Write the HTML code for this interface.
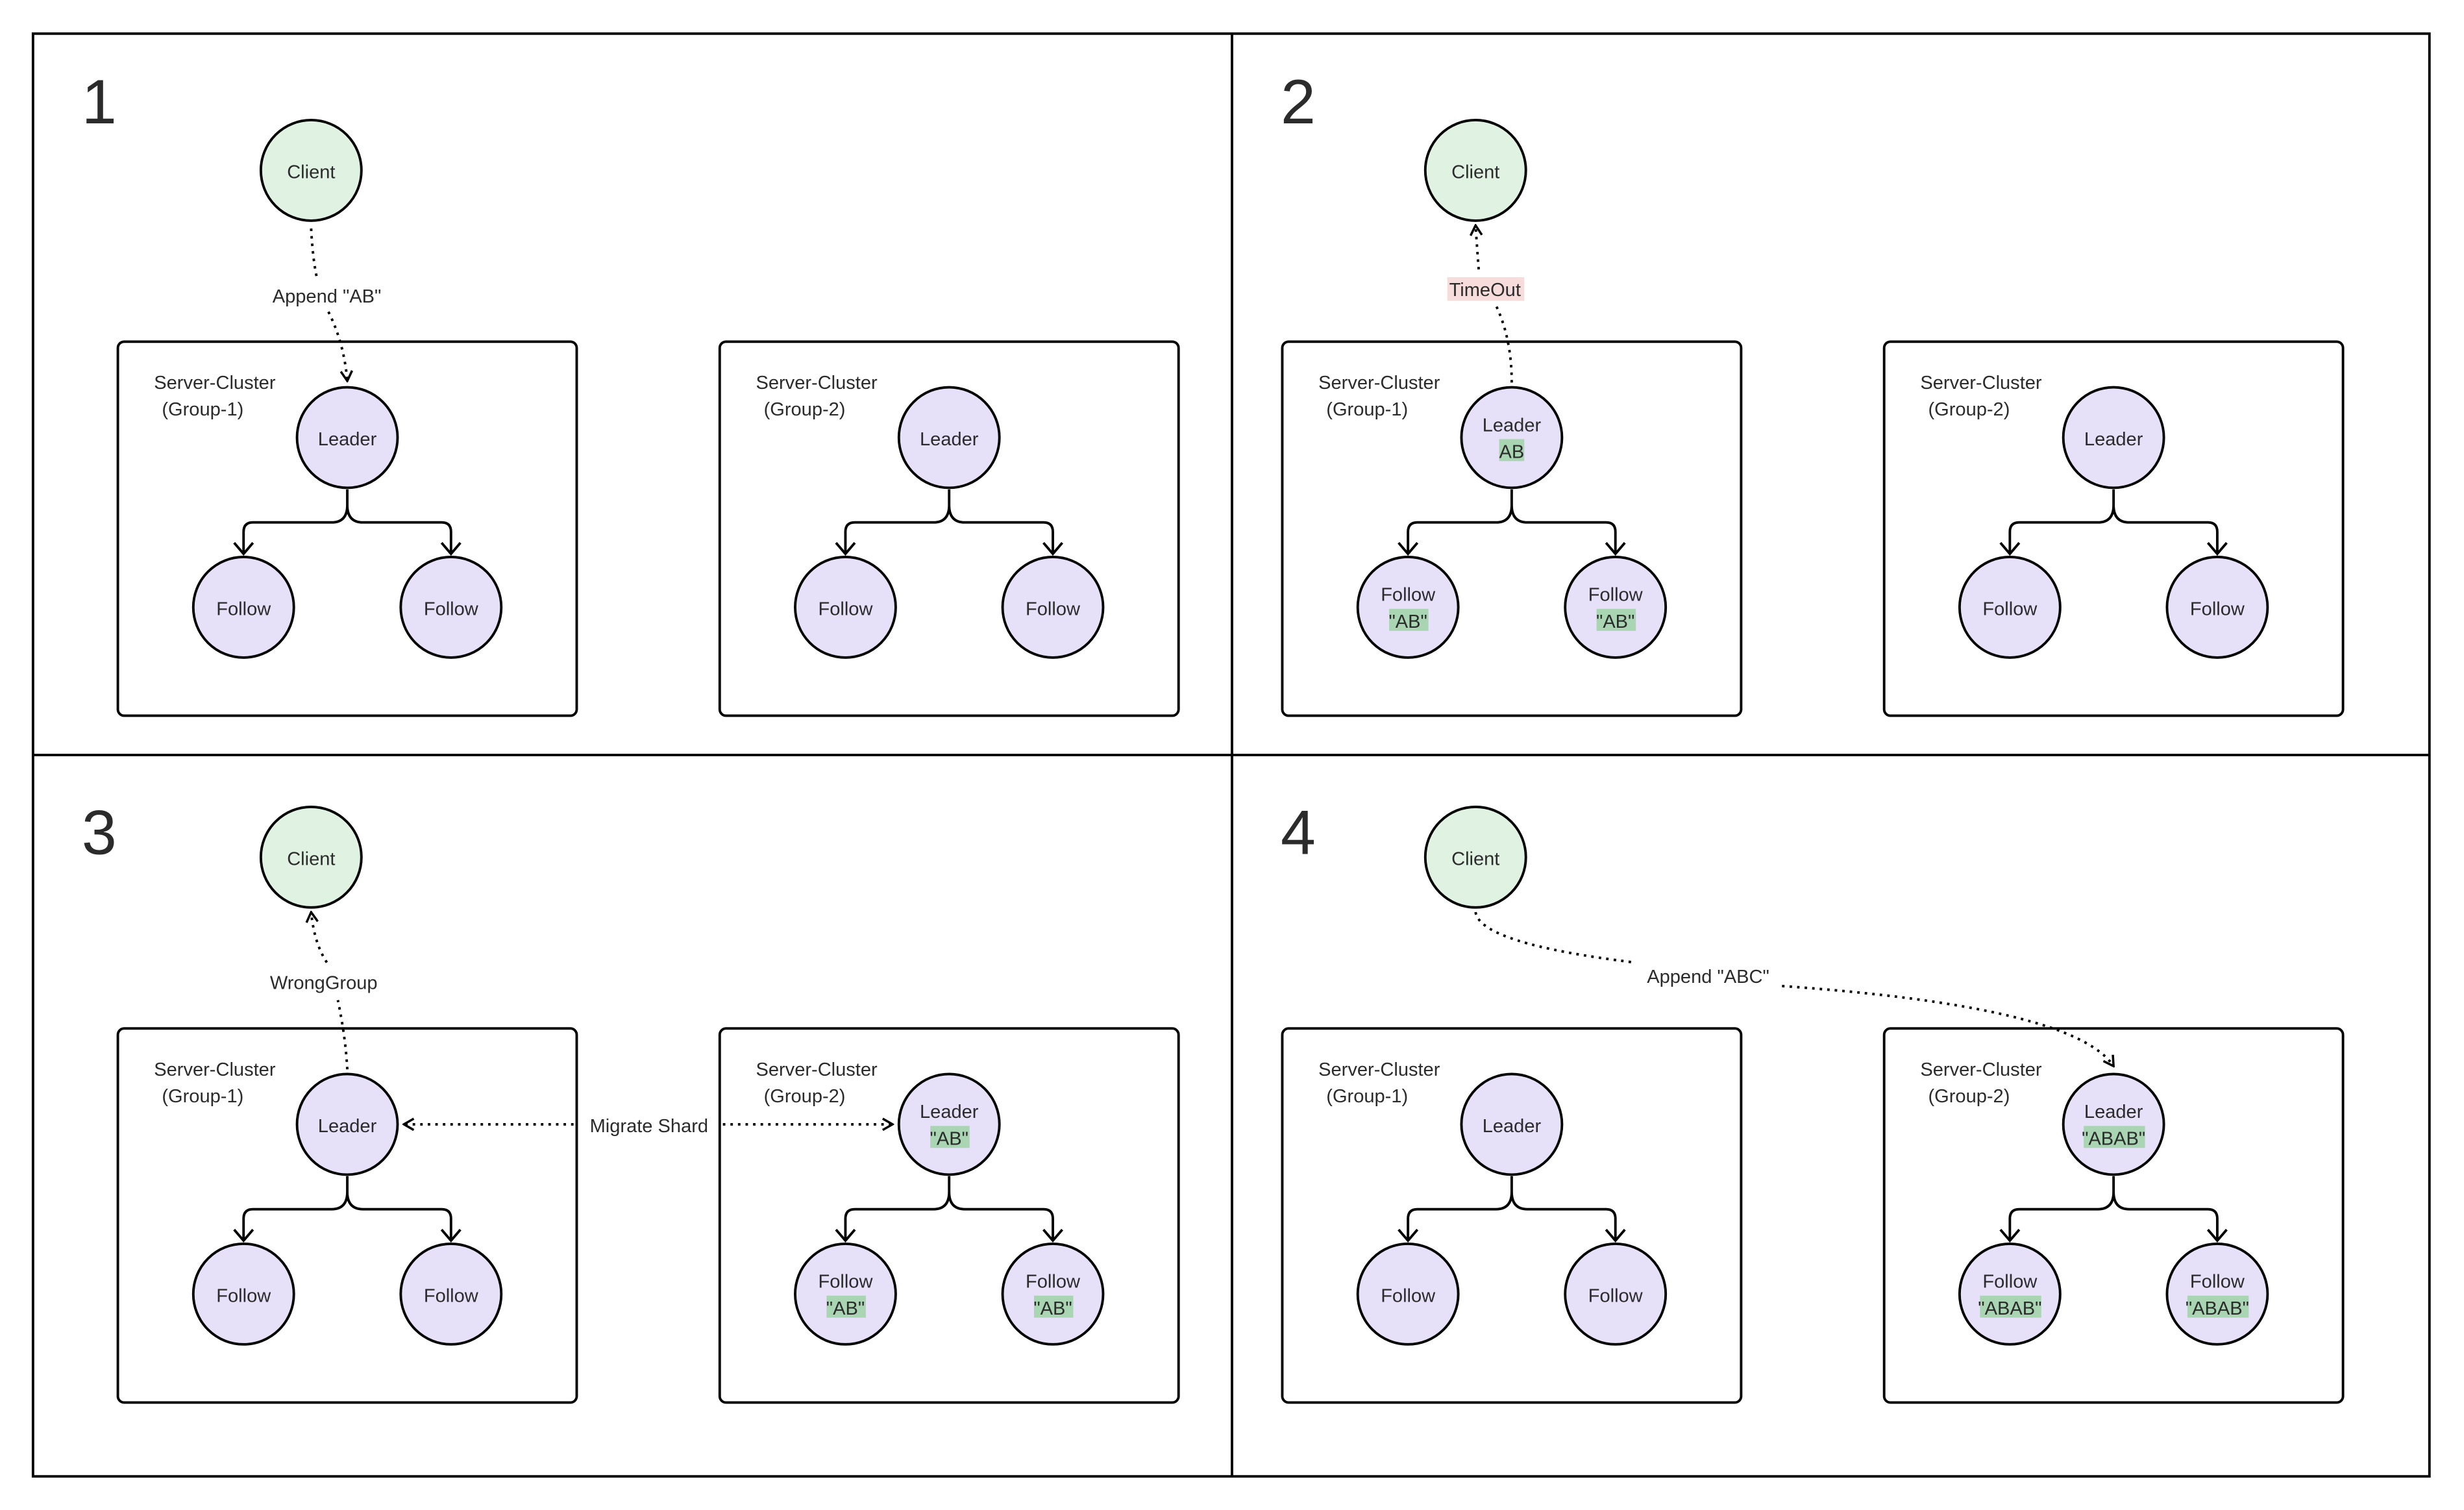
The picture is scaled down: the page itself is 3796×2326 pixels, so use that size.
<!DOCTYPE html>
<html><head><meta charset="utf-8"><style>
html,body{margin:0;padding:0;background:#fff;}
svg{display:block;}
text{font-family:"Liberation Sans","Noto Sans CJK SC",sans-serif;fill:#2b2b2b;}
</style></head><body>
<svg width="3796" height="2326" viewBox="0 0 1568 960" xmlns="http://www.w3.org/2000/svg">
<defs>
<marker id="ar" viewBox="0 0 10 10" refX="9" refY="5" markerWidth="9" markerHeight="9" orient="auto" markerUnits="userSpaceOnUse">
<path d="M2,1 L9,5 L2,9" fill="none" stroke="#000" stroke-width="1.6"/>
</marker>
</defs>
<rect x="0" y="0" width="1568" height="960" fill="#fff"/>
<rect x="21" y="21" width="1525" height="918" fill="none" stroke="#000" stroke-width="1.6"/>
<line x1="784" y1="21" x2="784" y2="939" stroke="#000" stroke-width="1.6"/>
<line x1="21" y1="480" x2="1546" y2="480" stroke="#000" stroke-width="1.6"/>

<g font-size="40">
<text x="52" y="78">1</text><text x="815" y="78">2</text>
<text x="52" y="543">3</text><text x="815" y="543">4</text>
</g>

<g stroke="#000" stroke-width="1.6">
<circle cx="198" cy="108" r="32" fill="#e0f3e3"/>
<circle cx="939" cy="108" r="32" fill="#e0f3e3"/>
<circle cx="198" cy="545" r="32" fill="#e0f3e3"/>
<circle cx="939" cy="545" r="32" fill="#e0f3e3"/>
</g>
<g font-size="12" text-anchor="middle">
<text x="198" y="113">Client</text><text x="939" y="113">Client</text>
<text x="198" y="550">Client</text><text x="939" y="550">Client</text>
</g>

<!-- cluster template generator done manually -->
<g id="clusters" font-size="12">
<!-- Q1 G1 -->
<g transform="translate(221,217)">
<rect x="-146" y="0" width="292" height="238" rx="4" fill="none" stroke="#000" stroke-width="1.6"/>
<text x="-123" y="30">Server-Cluster</text><text x="-118" y="47">(Group-1)</text>
<path d="M0,94 V104 Q0,115 -10,115 H-60 Q-66,115 -66,121 V135 M0,104 Q0,115 10,115 H60 Q66,115 66,121 V135" fill="none" stroke="#000" stroke-width="1.6"/>
<path d="M-72,128 L-66,135 L-60,128 M60,128 L66,135 L72,128" fill="none" stroke="#000" stroke-width="1.6"/>
<g stroke="#000" stroke-width="1.6" fill="#e6e1f9"><circle cx="0" cy="61" r="32"/><circle cx="-66" cy="169" r="32"/><circle cx="66" cy="169" r="32"/></g>
<g text-anchor="middle"><text x="0" y="66">Leader</text><text x="-66" y="174">Follow</text><text x="66" y="174">Follow</text></g>
</g>
<!-- Q1 G2 -->
<g transform="translate(604,217)">
<rect x="-146" y="0" width="292" height="238" rx="4" fill="none" stroke="#000" stroke-width="1.6"/>
<text x="-123" y="30">Server-Cluster</text><text x="-118" y="47">(Group-2)</text>
<path d="M0,94 V104 Q0,115 -10,115 H-60 Q-66,115 -66,121 V135 M0,104 Q0,115 10,115 H60 Q66,115 66,121 V135" fill="none" stroke="#000" stroke-width="1.6"/>
<path d="M-72,128 L-66,135 L-60,128 M60,128 L66,135 L72,128" fill="none" stroke="#000" stroke-width="1.6"/>
<g stroke="#000" stroke-width="1.6" fill="#e6e1f9"><circle cx="0" cy="61" r="32"/><circle cx="-66" cy="169" r="32"/><circle cx="66" cy="169" r="32"/></g>
<g text-anchor="middle"><text x="0" y="66">Leader</text><text x="-66" y="174">Follow</text><text x="66" y="174">Follow</text></g>
</g>
<!-- Q2 G1 -->
<g transform="translate(962,217)">
<rect x="-146" y="0" width="292" height="238" rx="4" fill="none" stroke="#000" stroke-width="1.6"/>
<text x="-123" y="30">Server-Cluster</text><text x="-118" y="47">(Group-1)</text>
<path d="M0,94 V104 Q0,115 -10,115 H-60 Q-66,115 -66,121 V135 M0,104 Q0,115 10,115 H60 Q66,115 66,121 V135" fill="none" stroke="#000" stroke-width="1.6"/>
<path d="M-72,128 L-66,135 L-60,128 M60,128 L66,135 L72,128" fill="none" stroke="#000" stroke-width="1.6"/>
<g stroke="#000" stroke-width="1.6" fill="#e6e1f9"><circle cx="0" cy="61" r="32"/><circle cx="-66" cy="169" r="32"/><circle cx="66" cy="169" r="32"/></g>
<g fill="#a9d5b2"><rect x="-8" y="62" width="16" height="14"/><rect x="-78" y="170" width="25" height="14"/><rect x="54" y="170" width="25" height="14"/></g>
<g text-anchor="middle"><text x="0" y="57">Leader</text><text x="0" y="74">AB</text><text x="-66" y="165">Follow</text><text x="-66" y="182">"AB"</text><text x="66" y="165">Follow</text><text x="66" y="182">"AB"</text></g>
</g>
<!-- Q2 G2 -->
<g transform="translate(1345,217)">
<rect x="-146" y="0" width="292" height="238" rx="4" fill="none" stroke="#000" stroke-width="1.6"/>
<text x="-123" y="30">Server-Cluster</text><text x="-118" y="47">(Group-2)</text>
<path d="M0,94 V104 Q0,115 -10,115 H-60 Q-66,115 -66,121 V135 M0,104 Q0,115 10,115 H60 Q66,115 66,121 V135" fill="none" stroke="#000" stroke-width="1.6"/>
<path d="M-72,128 L-66,135 L-60,128 M60,128 L66,135 L72,128" fill="none" stroke="#000" stroke-width="1.6"/>
<g stroke="#000" stroke-width="1.6" fill="#e6e1f9"><circle cx="0" cy="61" r="32"/><circle cx="-66" cy="169" r="32"/><circle cx="66" cy="169" r="32"/></g>
<g text-anchor="middle"><text x="0" y="66">Leader</text><text x="-66" y="174">Follow</text><text x="66" y="174">Follow</text></g>
</g>
<!-- Q3 G1 -->
<g transform="translate(221,654)">
<rect x="-146" y="0" width="292" height="238" rx="4" fill="none" stroke="#000" stroke-width="1.6"/>
<text x="-123" y="30">Server-Cluster</text><text x="-118" y="47">(Group-1)</text>
<path d="M0,94 V104 Q0,115 -10,115 H-60 Q-66,115 -66,121 V135 M0,104 Q0,115 10,115 H60 Q66,115 66,121 V135" fill="none" stroke="#000" stroke-width="1.6"/>
<path d="M-72,128 L-66,135 L-60,128 M60,128 L66,135 L72,128" fill="none" stroke="#000" stroke-width="1.6"/>
<g stroke="#000" stroke-width="1.6" fill="#e6e1f9"><circle cx="0" cy="61" r="32"/><circle cx="-66" cy="169" r="32"/><circle cx="66" cy="169" r="32"/></g>
<g text-anchor="middle"><text x="0" y="66">Leader</text><text x="-66" y="174">Follow</text><text x="66" y="174">Follow</text></g>
</g>
<!-- Q3 G2 -->
<g transform="translate(604,654)">
<rect x="-146" y="0" width="292" height="238" rx="4" fill="none" stroke="#000" stroke-width="1.6"/>
<text x="-123" y="30">Server-Cluster</text><text x="-118" y="47">(Group-2)</text>
<path d="M0,94 V104 Q0,115 -10,115 H-60 Q-66,115 -66,121 V135 M0,104 Q0,115 10,115 H60 Q66,115 66,121 V135" fill="none" stroke="#000" stroke-width="1.6"/>
<path d="M-72,128 L-66,135 L-60,128 M60,128 L66,135 L72,128" fill="none" stroke="#000" stroke-width="1.6"/>
<g stroke="#000" stroke-width="1.6" fill="#e6e1f9"><circle cx="0" cy="61" r="32"/><circle cx="-66" cy="169" r="32"/><circle cx="66" cy="169" r="32"/></g>
<g fill="#a9d5b2"><rect x="-12" y="62" width="25" height="14"/><rect x="-78" y="170" width="25" height="14"/><rect x="54" y="170" width="25" height="14"/></g>
<g text-anchor="middle"><text x="0" y="57">Leader</text><text x="0" y="74">"AB"</text><text x="-66" y="165">Follow</text><text x="-66" y="182">"AB"</text><text x="66" y="165">Follow</text><text x="66" y="182">"AB"</text></g>
</g>
<!-- Q4 G1 -->
<g transform="translate(962,654)">
<rect x="-146" y="0" width="292" height="238" rx="4" fill="none" stroke="#000" stroke-width="1.6"/>
<text x="-123" y="30">Server-Cluster</text><text x="-118" y="47">(Group-1)</text>
<path d="M0,94 V104 Q0,115 -10,115 H-60 Q-66,115 -66,121 V135 M0,104 Q0,115 10,115 H60 Q66,115 66,121 V135" fill="none" stroke="#000" stroke-width="1.6"/>
<path d="M-72,128 L-66,135 L-60,128 M60,128 L66,135 L72,128" fill="none" stroke="#000" stroke-width="1.6"/>
<g stroke="#000" stroke-width="1.6" fill="#e6e1f9"><circle cx="0" cy="61" r="32"/><circle cx="-66" cy="169" r="32"/><circle cx="66" cy="169" r="32"/></g>
<g text-anchor="middle"><text x="0" y="66">Leader</text><text x="-66" y="174">Follow</text><text x="66" y="174">Follow</text></g>
</g>
<!-- Q4 G2 -->
<g transform="translate(1345,654)">
<rect x="-146" y="0" width="292" height="238" rx="4" fill="none" stroke="#000" stroke-width="1.6"/>
<text x="-123" y="30">Server-Cluster</text><text x="-118" y="47">(Group-2)</text>
<path d="M0,94 V104 Q0,115 -10,115 H-60 Q-66,115 -66,121 V135 M0,104 Q0,115 10,115 H60 Q66,115 66,121 V135" fill="none" stroke="#000" stroke-width="1.6"/>
<path d="M-72,128 L-66,135 L-60,128 M60,128 L66,135 L72,128" fill="none" stroke="#000" stroke-width="1.6"/>
<g stroke="#000" stroke-width="1.6" fill="#e6e1f9"><circle cx="0" cy="61" r="32"/><circle cx="-66" cy="169" r="32"/><circle cx="66" cy="169" r="32"/></g>
<g fill="#a9d5b2"><rect x="-19" y="62" width="39" height="14"/><rect x="-85" y="170" width="39" height="14"/><rect x="47" y="170" width="39" height="14"/></g>
<g text-anchor="middle"><text x="0" y="57">Leader</text><text x="0" y="74">"ABAB"</text><text x="-66" y="165">Follow</text><text x="-66" y="182">"ABAB"</text><text x="66" y="165">Follow</text><text x="66" y="182">"ABAB"</text></g>
</g>
</g>

<!-- dotted connectors -->
<g fill="none" stroke="#000" stroke-width="1.6" stroke-dasharray="1.6 3.2">
<path d="M198,145 Q199,165 202,178"/>
<path d="M209,198 Q219,218 221,242" marker-end="url(#ar)"/>
<path d="M962,243 Q962,215 952,194"/>
<path d="M941,171 Q940,158 939,143" marker-end="url(#ar)"/>
<path d="M221,680 Q220,660 215,636"/>
<path d="M208,612 Q200,600 198,580" marker-end="url(#ar)"/>
<path d="M365,715 H257" marker-end="url(#ar)"/>
<path d="M460,715 H568" marker-end="url(#ar)"/>
<path d="M939,580 Q942,600 1040,612"/>
<path d="M1134,627 Q1320,640 1345,678" marker-end="url(#ar)"/>
</g>
<rect x="921" y="176" width="49" height="15" fill="#f6dcdb"/>
<g font-size="12" text-anchor="middle">
<text x="208" y="192">Append "AB"</text>
<text x="945" y="188">TimeOut</text>
<text x="206" y="629">WrongGroup</text>
<text x="413" y="720">Migrate Shard</text>
<text x="1087" y="625">Append "ABC"</text>
</g>
</svg>
</body></html>
